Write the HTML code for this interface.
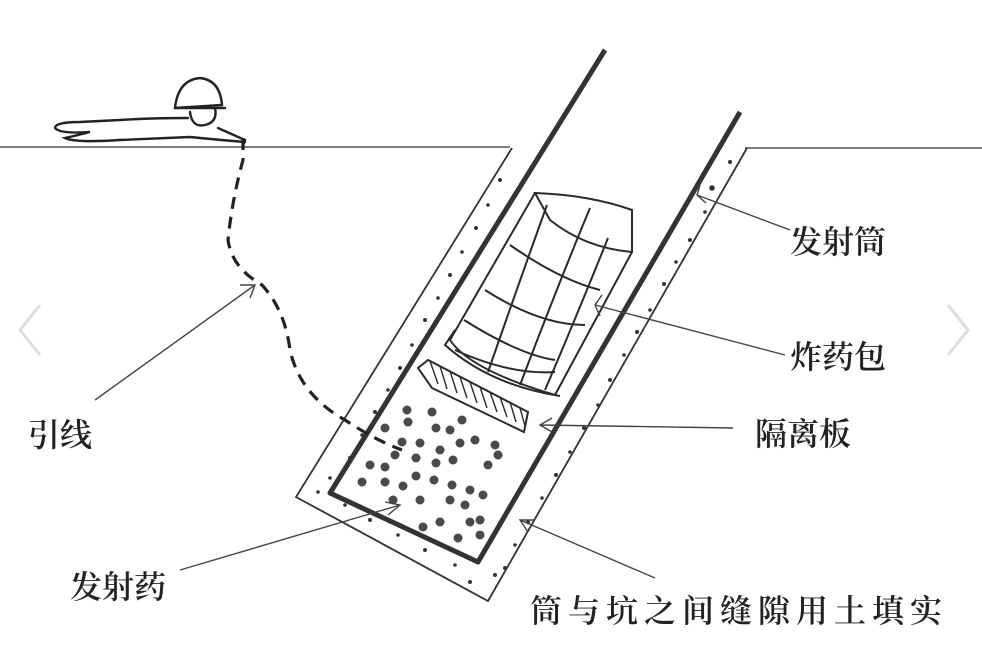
<!DOCTYPE html>
<html><head><meta charset="utf-8"><style>
html,body{margin:0;padding:0;background:#fff;}
svg{display:block}
text{font-family:"Noto Serif CJK SC","Noto Sans CJK SC",serif;fill:#222;font-weight:600;}
</style></head><body>
<svg width="982" height="649" viewBox="0 0 982 649" xmlns="http://www.w3.org/2000/svg">
<rect width="982" height="649" fill="#fff"/>
<path d="M40 305 L20 330 L40 355" fill="none" stroke="#ddd" stroke-width="3"/>
<path d="M948 305 L968 330 L948 355" fill="none" stroke="#ddd" stroke-width="3"/>
<line x1="0" y1="147" x2="510" y2="147" stroke="#555" stroke-width="1.6"/>
<line x1="745" y1="148" x2="982" y2="148" stroke="#555" stroke-width="1.6"/>
<path d="M512 148 L296 497 L488 601 L747 148" fill="none" stroke="#333" stroke-width="1.8"/>
<g fill="#333">
<circle cx="500" cy="180" r="2"/><circle cx="488" cy="205" r="1.8"/><circle cx="476" cy="228" r="2"/><circle cx="462" cy="252" r="1.8"/><circle cx="450" cy="275" r="2"/><circle cx="438" cy="298" r="1.8"/><circle cx="425" cy="320" r="2"/><circle cx="412" cy="345" r="1.8"/><circle cx="400" cy="368" r="2"/><circle cx="388" cy="390" r="1.8"/><circle cx="375" cy="412" r="2"/><circle cx="362" cy="435" r="1.8"/><circle cx="350" cy="458" r="2"/><circle cx="330" cy="478" r="1.8"/><circle cx="318" cy="492" r="1.8"/>
<circle cx="345" cy="505" r="1.8"/><circle cx="370" cy="520" r="2"/><circle cx="398" cy="535" r="1.8"/><circle cx="425" cy="550" r="2"/><circle cx="455" cy="565" r="1.8"/><circle cx="470" cy="582" r="2"/><circle cx="495" cy="575" r="2"/>
<circle cx="730" cy="162" r="2"/><circle cx="712" cy="188" r="2.8"/><circle cx="705" cy="212" r="1.8"/><circle cx="690" cy="240" r="2"/><circle cx="676" cy="262" r="1.8"/><circle cx="664" cy="284" r="2"/><circle cx="650" cy="310" r="1.8"/><circle cx="637" cy="332" r="2"/><circle cx="624" cy="355" r="1.8"/><circle cx="610" cy="380" r="2"/><circle cx="598" cy="405" r="1.8"/><circle cx="584" cy="428" r="2"/><circle cx="570" cy="452" r="1.8"/><circle cx="556" cy="475" r="2"/><circle cx="542" cy="498" r="1.8"/><circle cx="528" cy="522" r="2"/><circle cx="515" cy="545" r="1.8"/><circle cx="505" cy="568" r="2"/>
</g>
<path d="M605 50 L330 493 L478 562 L740 112" fill="none" stroke="#333" stroke-width="5" stroke-linejoin="round"/>
<g fill="none" stroke="#2a2a2a" stroke-width="2">
<path d="M535 193 Q590 195 632 210 L632 252 Q585 248 550 220 Z"/>
<path d="M535 193 L450 340 Q470 370 555 395 L632 252"/>
<path d="M455 330 L445 345 Q490 385 560 396"/>
<path d="M547 205 Q520 280 488 372"/>
<path d="M590 208 Q560 280 520 385"/>
<path d="M608 238 Q575 320 545 390"/>
<path d="M510 245 Q560 280 600 290"/>
<path d="M485 290 Q540 325 585 325"/>
<path d="M464 320 Q520 355 555 360"/>
<path d="M455 350 Q510 375 555 372"/>
</g>
<path d="M418 368 L428 360 L528 412 L524 432 L432 388 Z" fill="#fff" stroke="#2a2a2a" stroke-width="2"/>
<g stroke="#2a2a2a" stroke-width="1.4">
<line x1="430" y1="361" x2="438" y2="384"/><line x1="440" y1="366" x2="447" y2="389"/><line x1="450" y1="371" x2="457" y2="393"/><line x1="460" y1="377" x2="467" y2="398"/><line x1="470" y1="382" x2="477" y2="403"/><line x1="480" y1="387" x2="487" y2="408"/><line x1="490" y1="392" x2="497" y2="412"/><line x1="500" y1="397" x2="507" y2="417"/><line x1="510" y1="402" x2="516" y2="422"/><line x1="520" y1="408" x2="525" y2="426"/>
</g>
<g fill="#4a4a4a">
<circle cx="407" cy="410" r="4.5"/><circle cx="432" cy="412" r="4.5"/><circle cx="385" cy="428" r="4.5"/><circle cx="408" cy="422" r="4.5"/><circle cx="436" cy="428" r="4.5"/><circle cx="450" cy="430" r="4.5"/><circle cx="462" cy="420" r="4.5"/><circle cx="475" cy="440" r="4.5"/><circle cx="495" cy="445" r="4.5"/><circle cx="498" cy="455" r="4.5"/><circle cx="420" cy="443" r="4.5"/><circle cx="440" cy="450" r="4.5"/><circle cx="460" cy="443" r="4.5"/><circle cx="370" cy="465" r="4.5"/><circle cx="385" cy="467" r="4.5"/><circle cx="416" cy="458" r="4.5"/><circle cx="436" cy="463" r="4.5"/><circle cx="453" cy="460" r="4.5"/><circle cx="488" cy="465" r="4.5"/><circle cx="362" cy="482" r="4.5"/><circle cx="385" cy="482" r="4.5"/><circle cx="403" cy="486" r="4.5"/><circle cx="416" cy="476" r="4.5"/><circle cx="434" cy="480" r="4.5"/><circle cx="452" cy="485" r="4.5"/><circle cx="470" cy="490" r="4.5"/><circle cx="483" cy="495" r="4.5"/><circle cx="393" cy="500" r="4.5"/><circle cx="420" cy="500" r="4.5"/><circle cx="450" cy="500" r="4.5"/><circle cx="465" cy="505" r="4.5"/><circle cx="423" cy="527" r="4.5"/><circle cx="440" cy="522" r="4.5"/><circle cx="470" cy="522" r="4.5"/><circle cx="480" cy="520" r="4.5"/><circle cx="458" cy="538" r="4.5"/><circle cx="480" cy="535" r="4.5"/><circle cx="402" cy="442" r="4.5"/><circle cx="395" cy="455" r="4.5"/>
</g>
<path d="M243 138 L243 160 Q232 200 228 240 Q232 268 262 285 Q285 310 290 350 Q300 395 345 420 Q375 440 402 450" fill="none" stroke="#222" stroke-width="3.2" stroke-dasharray="12 8"/>
<g fill="none" stroke="#222" stroke-width="2.4" stroke-linecap="round">
<path d="M175 108 Q178 80 200 78 Q220 80 222 105 Z"/>
<path d="M175 108 L225 108"/>
<path d="M190 112 Q192 128 205 125 Q218 122 215 108"/>
<path d="M188 118 Q150 118 120 120 L80 122 Q55 122 55 128 Q60 134 90 132 Q70 137 65 138 Q75 143 120 140 L190 137 Q220 140 245 142"/>
<path d="M218 128 L245 140 L243 146"/>
</g>
<g stroke="#444" stroke-width="1.4" fill="none">
<path d="M95 400 L255 285 M240 285 L255 285 L250 298"/>
<path d="M180 570 L400 505 M385 502 L400 505 L388 515"/>
<path d="M655 578 L520 520 M528 532 L520 520 L534 520"/>
<path d="M733 428 L540 425 M552 418 L540 425 L552 432"/>
<path d="M785 355 L595 305 M602 295 L595 305 L600 316"/>
<path d="M790 230 L697 195 M700 185 L697 195 L706 203"/>
</g>
<text x="790" y="253" font-size="32">发射筒</text>
<text x="790" y="368" font-size="32">炸药包</text>
<text x="755" y="445" font-size="32">隔离板</text>
<text x="28" y="446" font-size="32">引线</text>
<text x="70" y="598" font-size="32">发射药</text>
<text x="530" y="622" font-size="32" letter-spacing="6">筒与坑之间缝隙用土填实</text>
</svg>
</body></html>
